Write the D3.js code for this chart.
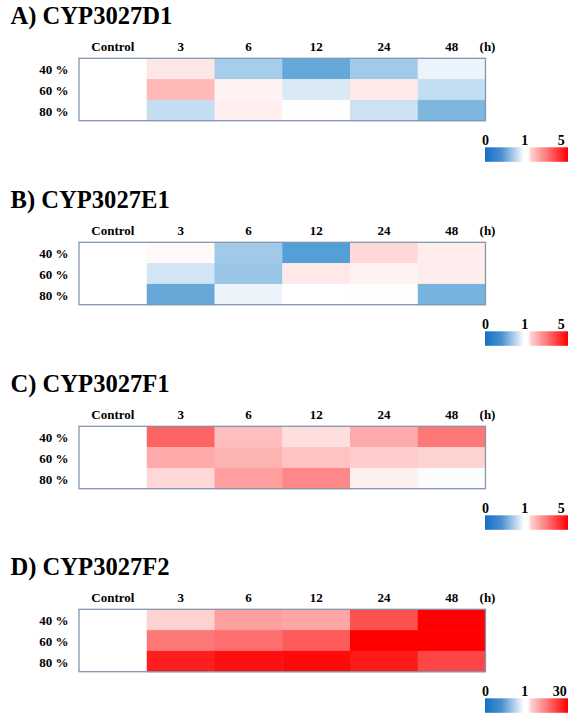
<!DOCTYPE html>
<html>
<head>
<meta charset="utf-8">
<script src="https://cdn.jsdelivr.net/npm/d3@7"></script>
<style>
  html, body { margin: 0; padding: 0; background: #ffffff; }
  svg { display: block; }
  svg text { font-family: 'Liberation Serif', 'Times New Roman', Times, 'DejaVu Serif', serif; }
</style>
</head>
<body>
<svg id="chart" width="582" height="717"></svg>
<script>
// ---- data ----
const columns = ["Control", "3", "6", "12", "24", "48"];
const rows = ["40 %", "60 %", "80 %"];
const titles = ["A) CYP3027D1", "B) CYP3027E1", "C) CYP3027F1", "D) CYP3027F2"];
const legendMax = [5, 5, 5, 30];

// relative expression (fold change vs control), rows = 40/60/80 %, cols = Control,3,6,12,24,48 h
const valuesD1 = [
  [1, 1.4, 0.65, 0.39, 0.63, 0.92],
  [1, 2.1, 1.2, 0.85, 1.35, 0.77],
  [1, 0.77, 1.25, 1.02, 0.8, 0.49]
];
const valuesE1 = [
  [1, 1.1, 0.63, 0.33, 1.6, 1.3],
  [1, 0.82, 0.6, 1.36, 1.2, 1.3],
  [1, 0.4, 0.92, 1.0, 1.05, 0.47]
];
const valuesF1 = [
  [1, 3.43, 2.02, 1.52, 2.33, 3.12],
  [1, 2.33, 2.18, 1.94, 1.78, 1.7],
  [1, 1.63, 2.5, 2.88, 1.24, 0.98]
];
const valuesF2 = [
  [1, 6.1, 11.8, 11.2, 20.9, 30],
  [1, 16.4, 17.5, 19.8, 30, 30],
  [1, 26.6, 28.3, 28.9, 27.1, 22]
];
const panelValues = [valuesD1, valuesE1, valuesF1, valuesF2];

// ---- drawing ----
const FONT = "'Liberation Serif', 'Times New Roman', Times, 'DejaVu Serif', serif";
const svg = d3.select("#chart").attr("font-family", FONT);
const panelOffsets = [0, 184, 368, 551];
const blue = "#0070c0", white = "#ffffff", red = "#ff0000";

const x = d3.scaleBand().domain(columns).range([79, 485.5]).padding(0);
const y = d3.scaleBand().domain(rows).range([58.3, 120.7]).padding(0);

// legend gradient
const defs = svg.append("defs");
const grad = defs.append("linearGradient").attr("id", "legGrad")
  .attr("x1", "0%").attr("x2", "100%").attr("y1", "0%").attr("y2", "0%");
[[0, "#1470c4"], [0.2, "#4a90cf"], [0.47, "#ffffff"], [0.52, "#ffffff"], [0.55, "#ffd2d2"], [1, "#ff0000"]]
  .forEach(([o, c]) => grad.append("stop").attr("offset", o).attr("stop-color", c));

panelValues.forEach((vals, p) => {
  const g = svg.append("g").attr("transform", `translate(0,${panelOffsets[p]})`);
  const color = d3.scaleLinear().domain([0, 1, legendMax[p]]).range([blue, white, red]).clamp(true);

  g.append("text").attr("x", 10.5).attr("y", 23.5).attr("font-family", FONT)
    .attr("font-size", 24.6).attr("font-weight", "bold").attr("fill", "#000")
    .text(titles[p]);

  // column headers
  g.selectAll("text.col").data(columns).join("text").attr("class", "col")
    .attr("x", d => x(d) + x.bandwidth() / 2).attr("y", 50.5).attr("font-family", FONT)
    .attr("text-anchor", "middle").attr("font-size", 13).attr("font-weight", "bold")
    .text(d => d);
  g.append("text").attr("x", x.range()[1] + 2).attr("y", 50.5).attr("font-family", FONT)
    .attr("text-anchor", "middle").attr("font-size", 13).attr("font-weight", "bold")
    .text("(h)");

  // row labels
  g.selectAll("text.row").data(rows).join("text").attr("class", "row")
    .attr("x", 68.5).attr("y", d => y(d) + y.bandwidth() / 2 + 5.5).attr("font-family", FONT)
    .attr("text-anchor", "end").attr("font-size", 13).attr("font-weight", "bold")
    .text(d => d);

  // cells
  const cells = [];
  vals.forEach((r, i) => r.forEach((v, j) => cells.push({ row: rows[i], col: columns[j], v })));
  g.selectAll("rect.cell").data(cells).join("rect").attr("class", "cell")
    .attr("x", d => x(d.col)).attr("y", d => y(d.row))
    .attr("width", x.bandwidth() + 0.5).attr("height", y.bandwidth() + 0.5)
    .attr("fill", d => color(d.v));

  // frame
  g.append("rect").attr("x", x.range()[0]).attr("y", y.range()[0])
    .attr("width", x.range()[1] - x.range()[0]).attr("height", y.range()[1] - y.range()[0])
    .attr("fill", "none").attr("stroke", "#8496b0").attr("stroke-width", 1.3);

  // legend
  const lx = d3.scaleLinear().domain([0, 1]).range([485, 568]);
  g.append("rect").attr("x", lx(0)).attr("y", 147.3).attr("width", lx(1) - lx(0)).attr("height", 14.5)
    .attr("fill", "url(#legGrad)");
  const legLabels = [["0", 0.005], ["1", 0.48], [String(legendMax[p]), legendMax[p] >= 10 ? 0.9 : 0.92]];
  g.selectAll("text.leg").data(legLabels).join("text").attr("class", "leg")
    .attr("x", d => lx(d[1])).attr("y", 144.5).attr("font-family", FONT)
    .attr("text-anchor", "middle").attr("font-size", 14).attr("font-weight", "bold")
    .text(d => d[0]);
});
</script>
</body>
</html>
